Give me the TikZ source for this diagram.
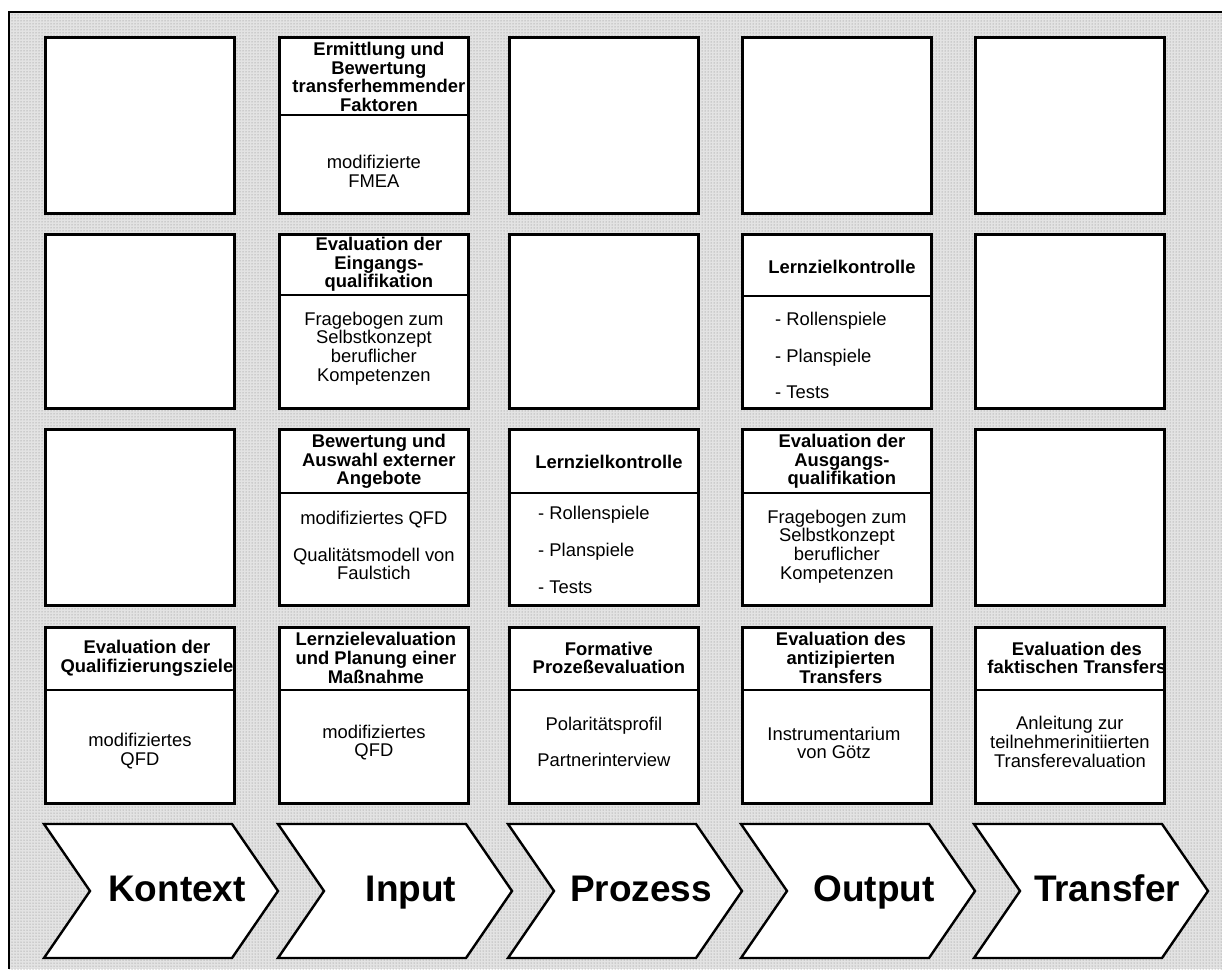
\documentclass[tikz,border=0pt]{standalone}
\usepackage{fontspec}
\setmainfont{Liberation Sans}
\usetikzlibrary{patterns}
\tikzset{cellbox/.style={draw,line width=2.8pt,fill=white,anchor=north west,
		minimum width=189pt,inner sep=0pt},
	divline/.style={line width=2.4pt},
	headtxt/.style={font=\bfseries\fontsize{18.4}{18.7}\selectfont,align=center,inner sep=0pt},
	bodytxt/.style={font=\fontsize{18.4}{18.7}\selectfont,align=center,inner sep=0pt},
	listtxt/.style={bodytxt,align=left,anchor=west},
	chev/.style={draw,line width=2.4pt,fill=white},
	phasetxt/.style={font=\bfseries\fontsize{37}{40}\selectfont,anchor=base}}

\begin{document}
\begin{tikzpicture}
	[x=1pt,y=-1pt]
	\useasboundingbox (0,0) rectangle (1222,969);
	% background
	\fill[gray!22] (9,12) rectangle (1222,969);
	\fill[pattern=dots,pattern color=gray] (9,12) rectangle (1222,969);
	\draw[line width=2.4pt] (1222,12) -- (9,12) -- (9,969);

	% boxes
	\foreach \c/\x in {kon/44,inp/278,pro/508,out/741,tra/974}
	\foreach \r/\y/\h in {1/36/176,2/233/174,3/428/176,4/626/176}
	\node[cellbox,minimum height=\h pt] (\c\r) at (\x,\y) {};

	\foreach \n/\d in {inp1/79,inp2/62,out2/63,inp3/65,pro3/65,out3/65,
		kon4/64,inp4/64,pro4/64,out4/64,tra4/64}
	\draw[divline] ([yshift=-\d pt]\n.north west) -- ([yshift=-\d pt]\n.north east);

	% Input
	\node[headtxt] (inp1h) at ([xshift=5pt,yshift=-41pt]inp1.north) {Ermittlung und\\Bewertung\\transferhemmender\\Faktoren};
	\node[bodytxt] (inp1b) at ([yshift=-135pt]inp1.north) {modifizierte\\FMEA};
	\node[headtxt] (inp2h) at ([xshift=5pt,yshift=-31.5pt]inp2.north) {Evaluation der\\Eingangs-\\qualifikation};
	\node[bodytxt] (inp2b) at ([yshift=-115.5pt]inp2.north) {Fragebogen zum\\Selbstkonzept\\beruflicher\\Kompetenzen};
	\node[headtxt] (inp3h) at ([xshift=5pt,yshift=-33.5pt]inp3.north) {Bewertung und\\Auswahl externer\\Angebote};
	\node[bodytxt] (inp3b) at ([yshift=-117.5pt]inp3.north) {modifiziertes QFD\\[18pt]Qualitätsmodell von\\Faulstich};
	\node[headtxt] (inp4h) at ([xshift=2pt,yshift=-32pt]inp4.north) {Lernzielevaluation\\und Planung einer\\Maßnahme};
	\node[bodytxt] (inp4b) at ([yshift=-116.5pt]inp4.north) {modifiziertes\\QFD};

	% Kontext
	\node[headtxt] (kon4h) at ([xshift=7pt,yshift=-32pt]kon4.north) {Evaluation der\\Qualifizierungsziele};
	\node[bodytxt] (kon4b) at ([yshift=-125pt]kon4.north) {modifiziertes\\QFD};

	% Prozess
	\node[headtxt] (pro3h) at ([xshift=5pt,yshift=-34pt]pro3.north) {Lernzielkontrolle};
	\node[listtxt] (pro3b) at ([xshift=30pt,yshift=-122pt]pro3.north west) {- Rollenspiele\\[18pt]- Planspiele\\[18pt]- Tests};
	\node[headtxt] (pro4h) at ([xshift=5pt,yshift=-32pt]pro4.north) {Formative\\Prozeßevaluation};
	\node[bodytxt] (pro4b) at ([yshift=-116pt]pro4.north) {Polaritätsprofil\\[18pt]Partnerinterview};

	% Output
	\node[headtxt] (out2h) at ([xshift=5pt,yshift=-34pt]out2.north) {Lernzielkontrolle};
	\node[listtxt] (out2b) at ([xshift=34pt,yshift=-122.5pt]out2.north west) {- Rollenspiele\\[18pt]- Planspiele\\[18pt]- Tests};
	\node[headtxt] (out3h) at ([xshift=5pt,yshift=-33.5pt]out3.north) {Evaluation der\\Ausgangs-\\qualifikation};
	\node[bodytxt] (out3b) at ([yshift=-118.5pt]out3.north) {Fragebogen zum\\Selbstkonzept\\beruflicher\\Kompetenzen};
	\node[headtxt] (out4h) at ([xshift=4pt,yshift=-32pt]out4.north) {Evaluation des\\antizipierten\\Transfers};
	\node[bodytxt] (out4b) at ([xshift=-3pt,yshift=-117pt]out4.north) {Instrumentarium\\von Götz};

	% Transfer
	\node[headtxt] (tra4h) at ([xshift=7pt,yshift=-32pt]tra4.north) {Evaluation des\\faktischen Transfers};
	\node[bodytxt] (tra4b) at ([yshift=-116pt]tra4.north) {Anleitung zur\\teilnehmerinitiierten\\Transferevaluation};

	% phases
	\foreach \x/\n/\t in {44/kon/Kontext,278/inp/Input,508/pro/Prozess,741/out/Output,974/tra/Transfer}{
		\draw[chev] (\x,824) -- ++(188,0) -- ++(46,67) -- ++(-46,67) -- ++(-188,0) -- ++(46,-67) -- cycle;
		\node[phasetxt] (\n-lbl) at (\x+133,901) {\t};
	}
\end{tikzpicture}
\end{document}
